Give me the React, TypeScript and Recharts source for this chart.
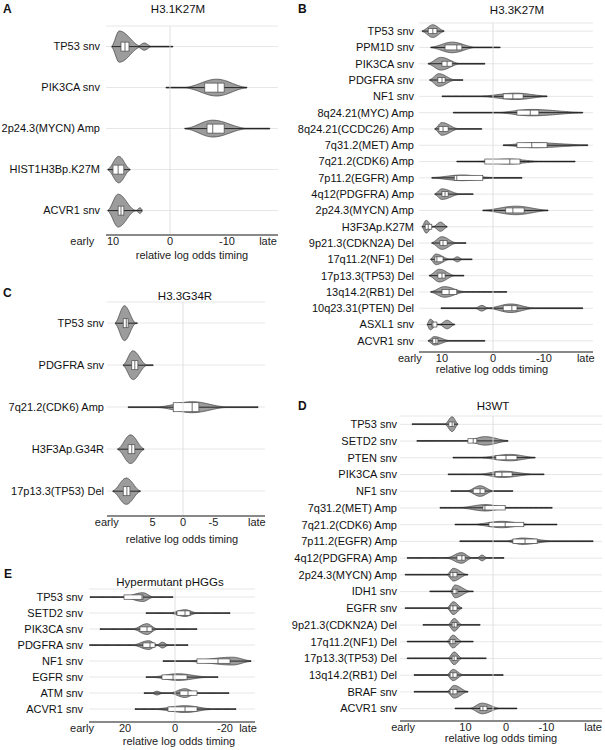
import { ComposedChart, Bar, XAxis, YAxis, CartesianGrid, ReferenceLine } from 'recharts';

// [min, q1, median, q3, max] of relative log odds timing
type Stat = [number, number, number, number, number];
// violin body: [start, mode, end, relative density]
type Body = [number, number, number, number];
// extra bump: [centre, half span, relative density]
type Lobe = [number, number, number];

// A: H3.1K27M
const aLabels = ['TP53 snv', 'PIK3CA snv', '2p24.3(MYCN) Amp', 'HIST1H3Bp.K27M', 'ACVR1 snv'];
const aStats: Stat[] = [
  [-0.5, 7.2, 7.9, 8.6, 10.2],
  [-13.5, -9.5, -8.4, -6.1, 0.7],
  [-17.5, -9.5, -7.5, -6.5, -2.6],
  [7.0, 8.1, 9.1, 10.0, 10.9],
  [4.9, 8.1, 8.6, 9.1, 10.9],
];
const aBodies: Body[] = [
  [5.0, 8.9, 10.3, 0.95],
  [-13.6, -8.2, -2.5, 0.5],
  [-13.5, -7.5, -2.6, 0.5],
  [6.9, 9.0, 11.0, 0.8],
  [6.0, 9.1, 11.0, 1],
];
const aLobes: Record<string, Lobe> = {
  'TP53 snv': [4.5, 1.2, 0.2],
  'ACVR1 snv': [5.3, 0.6, 0.15],
};
const aTicks = [15.4, 10, 0, -10, -17.2];

// B: H3.3K27M
const bLabels = [
  'TP53 snv', 'PPM1D snv', 'PIK3CA snv', 'PDGFRA snv', 'NF1 snv', '8q24.21(MYC) Amp',
  '8q24.21(CCDC26) Amp', '7q31.2(MET) Amp', '7q21.2(CDK6) Amp', '7p11.2(EGFR) Amp',
  '4q12(PDGFRA) Amp', '2p24.3(MYCN) Amp', 'H3F3Ap.K27M', '9p21.3(CDKN2A) Del',
  '17q11.2(NF1) Del', '17p13.3(TP53) Del', '13q14.2(RB1) Del', '10q23.31(PTEN) Del',
  'ASXL1 snv', 'ACVR1 snv',
];
const bStats: Stat[] = [
  [9.6, 11.0, 11.8, 12.7, 13.9],
  [-1.4, 6.1, 7.1, 9.4, 12.2],
  [1.6, 8.0, 9.0, 10.0, 12.7],
  [5.9, 9.4, 10.0, 10.8, 12.4],
  [-10.6, -5.9, -3.9, -2.0, 10.0],
  [-17.6, -9.0, -7.3, -4.7, 7.8],
  [2.2, 8.8, 9.8, 10.6, 11.4],
  [-18.6, -10.6, -7.6, -4.7, -2.0],
  [-16.1, -5.3, -3.3, 1.6, 7.1],
  [-5.7, 2.0, 7.1, 7.6, 12.0],
  [3.9, 8.8, 9.4, 10.0, 11.4],
  [-10.8, -6.1, -3.9, -2.5, 2.0],
  [9.0, 12.0, 12.7, 13.3, 13.9],
  [5.3, 9.0, 9.8, 10.4, 12.0],
  [4.1, 9.8, 11.0, 11.4, 12.2],
  [5.7, 9.4, 10.0, 10.8, 12.5],
  [-2.7, 7.1, 8.6, 10.0, 12.2],
  [-17.6, -4.7, -3.7, -2.0, 10.2],
  [7.5, 11.0, 11.8, 12.0, 12.9],
  [1.6, 10.8, 11.2, 11.8, 12.7],
];
const bBodies: Body[] = [
  [9.5, 11.8, 14.0, 0.85],
  [3.5, 8.0, 12.3, 0.7],
  [6.5, 10.2, 12.8, 0.85],
  [7.5, 10.6, 12.5, 0.85],
  [-10.7, -4.5, 2.5, 0.4],
  [-17.7, -7.5, -1.0, 0.4],
  [6.8, 10.0, 11.5, 0.85],
  [-18.7, -8.0, -2.0, 0.3],
  [-9.0, -3.0, 3.0, 0.3],
  [0.0, 6.0, 12.1, 0.35],
  [6.5, 10.0, 11.5, 0.7],
  [-10.9, -4.5, 2.0, 0.55],
  [11.8, 13.1, 14.0, 0.85],
  [7.2, 10.0, 12.1, 0.85],
  [8.5, 11.2, 12.3, 0.7],
  [7.5, 10.5, 12.6, 0.85],
  [5.5, 9.5, 12.3, 0.7],
  [-8.0, -3.5, 1.0, 0.55],
  [11.0, 12.3, 13.0, 0.7],
  [8.5, 11.5, 12.8, 0.55],
];
const bLobes: Record<string, Lobe> = {
  'H3F3Ap.K27M': [10.3, 1.4, 0.6],
  '17q11.2(NF1) Del': [7.0, 1.0, 0.3],
  '10q23.31(PTEN) Del': [2.2, 1.2, 0.35],
  'ASXL1 snv': [9.0, 1.5, 0.55],
};
const bTicks = [16.3, 10, 0, -10, -18.2];

// C: H3.3G34R
const cLabels = ['TP53 snv', 'PDGFRA snv', '7q21.2(CDK6) Amp', 'H3F3Ap.G34R', '17p13.3(TP53) Del'];
const cStats: Stat[] = [
  [7.5, 9.0, 9.3, 9.8, 11.1],
  [4.9, 7.4, 7.9, 8.4, 9.8],
  [-12.3, -2.6, -1.5, 1.6, 9.0],
  [6.4, 7.9, 8.4, 9.0, 10.7],
  [7.0, 8.7, 9.2, 9.8, 11.5],
];
const cBodies: Body[] = [
  [7.7, 9.6, 11.2, 1],
  [5.9, 8.2, 9.9, 0.82],
  [-7.2, -1.5, 4.3, 0.3],
  [6.3, 8.6, 10.8, 0.82],
  [6.9, 9.3, 11.6, 0.75],
];
const cLobes: Record<string, Lobe> = {};
const cTicks = [12.5, 5, 0, -5, -12.1];

// D: H3WT
const dLabels = [
  'TP53 snv', 'SETD2 snv', 'PTEN snv', 'PIK3CA snv', 'NF1 snv', '7q31.2(MET) Amp',
  '7q21.2(CDK6) Amp', '7p11.2(EGFR) Amp', '4q12(PDGFRA) Amp', '2p24.3(MYCN) Amp',
  'IDH1 snv', 'EGFR snv', '9p21.3(CDKN2A) Del', '17q11.2(NF1) Del', '17p13.3(TP53) Del',
  '13q14.2(RB1) Del', 'BRAF snv', 'ACVR1 snv',
];
const dStats: Stat[] = [
  [11.9, 12.8, 13.3, 14.1, 23.2],
  [-0.5, 7.2, 8.1, 9.4, 22.0],
  [-7.2, -2.7, 0, 2.5, 13.1],
  [-9.4, -1.5, 1.0, 2.7, 14.3],
  [-1.7, 5.2, 6.4, 8.1, 13.6],
  [-11.4, 0.2, 5.2, 5.7, 16.3],
  [-12.6, -4.4, 0.2, 4.2, 12.6],
  [-21.5, -7.7, -4.7, -1.7, 11.4],
  [0.5, 10.1, 10.9, 12.1, 24.4],
  [9.4, 12.1, 13.1, 13.8, 24.9],
  [8.1, 11.9, 12.3, 13.1, 18.8],
  [10.9, 12.1, 13.1, 13.8, 24.9],
  [6.4, 12.1, 12.8, 13.3, 20.5],
  [8.1, 12.6, 13.1, 13.8, 24.4],
  [4.9, 12.1, 12.8, 13.3, 24.4],
  [0.7, 12.1, 13.1, 13.8, 22.7],
  [9.4, 12.1, 13.1, 13.8, 22.7],
  [-2.7, 4.7, 5.7, 6.4, 12.6],
];
const dBodies: Body[] = [
  [11.8, 13.3, 15.1, 1],
  [-0.6, 5.2, 9.8, 0.55],
  [-7.3, -1.0, 6.4, 0.4],
  [-6.7, 1.0, 6.4, 0.4],
  [3.2, 6.4, 9.6, 0.7],
  [-0.5, 5.0, 11.4, 0.4],
  [-6.0, 1.0, 8.0, 0.4],
  [-11.5, -4.0, 0.0, 0.4],
  [8.4, 11.0, 14.6, 0.7],
  [9.6, 13.0, 14.6, 0.85],
  [8.8, 12.6, 13.8, 0.85],
  [10.8, 13.0, 14.6, 0.85],
  [10.9, 12.8, 14.3, 0.85],
  [10.9, 13.1, 14.6, 0.85],
  [10.9, 12.8, 14.3, 0.85],
  [10.6, 13.1, 14.6, 0.75],
  [9.4, 12.8, 14.6, 0.85],
  [1.5, 5.9, 8.9, 0.7],
];
const dLobes: Record<string, Lobe> = {
  '4q12(PDGFRA) Amp': [5.9, 1.2, 0.35],
};
const dTicks = [25.4, 10, 0, -10, -21.5];

// E: Hypermutant pHGGs
const eLabels = ['TP53 snv', 'SETD2 snv', 'PIK3CA snv', 'PDGFRA snv', 'NF1 snv', 'EGFR snv', 'ATM snv', 'ACVR1 snv'];
const eStats: Stat[] = [
  [0.8, 12.8, 13.2, 20.4, 34.0],
  [-22.0, -6.0, -4.0, -0.8, 11.6],
  [-8.8, 9.2, 11.2, 14.0, 30.0],
  [-5.2, 8.0, 10.0, 12.8, 34.2],
  [-30.4, -22.0, -17.2, -8.8, 4.8],
  [-17.2, -4.8, 0.8, 5.2, 11.6],
  [-21.6, -8.8, -5.2, -2.0, 12.4],
  [-24.4, -8.8, -4.0, 2.8, 16.0],
];
const eBodies: Body[] = [
  [8.8, 12.8, 20.8, 0.8],
  [-8.8, -4.0, 2.0, 0.6],
  [7.2, 11.2, 16.8, 1],
  [7.0, 10.5, 16.8, 0.8],
  [-30.5, -23.0, -5.0, 0.7],
  [-13.0, -1.0, 9.0, 0.6],
  [-8.8, -4.0, 2.0, 0.8],
  [-15.0, -4.0, 8.0, 0.6],
];
const eLobes: Record<string, Lobe> = {
  'PDGFRA snv': [5.0, 2.2, 0.5],
  'ATM snv': [7.2, 2.0, 0.3],
};
const eTicks = [37.2, 20, 0, -20, -29.2];

const FONT = '"Liberation Sans", Arial, sans-serif';

const bump = (t: number) => 0.5 - 0.5 * Math.cos(Math.PI * Math.max(0, Math.min(1, t)));

const Violin = (props: any) => {
  const { x, y, width, height, payload, maxHalf, boxHalf } = props;
  if (!payload) return null;
  const [mn, q1, med, q3, mx] = payload.stat as Stat;
  const [b0, mode, b1, d] = payload.body as Body;
  const lobe = payload.lobe as Lobe | undefined;
  // axis is reversed: max value sits on the left edge of the bar, min on the right
  const lx = Math.min(x, x + width);
  const rx = Math.max(x, x + width);
  const px = (v: number) => rx + ((v - mn) / (mx - mn)) * (lx - rx);
  const cy = y + height / 2;

  const half = (v: number) => {
    let w = 0;
    if (v >= b0 && v <= mode) w = d * (mode > b0 ? bump((v - b0) / (mode - b0)) : 1);
    else if (v > mode && v <= b1) w = d * (b1 > mode ? bump((b1 - v) / (b1 - mode)) : 1);
    if (lobe) {
      const t = Math.abs(v - lobe[0]) / lobe[1];
      if (t < 1) w = Math.max(w, lobe[2] * bump(1 - t));
    }
    return w * maxHalf + 0.4;
  };

  const n = 90;
  const top: string[] = [];
  const bot: string[] = [];
  for (let i = 0; i <= n; i++) {
    const v = mn + ((mx - mn) * i) / n;
    const X = px(v).toFixed(2);
    const h = half(v);
    top.push(`${X},${(cy - h).toFixed(2)}`);
    bot.unshift(`${X},${(cy + h).toFixed(2)}`);
  }
  const path = `M${top.join('L')}L${bot.join('L')}Z`;
  const bx = Math.min(px(q1), px(q3));
  const bw = Math.abs(px(q1) - px(q3));

  return (
    <g>
      <path d={path} fill="#9c9c9c" stroke="#3a3a3a" strokeWidth={0.7} strokeLinejoin="round" />
      <line x1={px(mn)} x2={px(mx)} y1={cy} y2={cy} stroke="#1a1a1a" strokeWidth={0.9} />
      <rect x={bx} y={cy - boxHalf} width={bw} height={boxHalf * 2} fill="#fff" stroke="#4a4a4a" strokeWidth={0.7} />
      <line x1={px(med)} x2={px(med)} y1={cy - boxHalf} y2={cy + boxHalf} stroke="#4a4a4a" strokeWidth={0.8} />
    </g>
  );
};

const panels = [
  {
    letter: 'A', title: 'H3.1K27M', labels: aLabels, stats: aStats, bodies: aBodies, lobes: aLobes, ticks: aTicks,
    frame: { left: 0, top: 0, width: 300, height: 270 }, plot: { x0: 106, x1: 278, y0: 26, y1: 235 }, padBottom: 4,
    yWidth: 100, labelGap: 6, domain: [-18.95, 11.23], zero: 0, maxHalf: 16, boxHalf: 4.5,
    axisDx: 0, axisDy: 24, letterAt: [3, 13], titleAt: [178, 13],
  },
  {
    letter: 'B', title: 'H3.3K27M', labels: bLabels, stats: bStats, bodies: bBodies, lobes: bLobes, ticks: bTicks,
    frame: { left: 280, top: 0, width: 325, height: 390 }, plot: { x0: 419, x1: 593, y0: 23, y1: 352 }, padBottom: 3,
    yWidth: 135, labelGap: 5, domain: [-19.61, 14.51], zero: 0, maxHalf: 7, boxHalf: 2.5,
    axisDx: -14, axisDy: 21, letterAt: [298, 13], titleAt: [517, 14],
  },
  {
    letter: 'C', title: 'H3.3G34R', labels: cLabels, stats: cStats, bodies: cBodies, lobes: cLobes, ticks: cTicks,
    frame: { left: 0, top: 282, width: 300, height: 268 }, plot: { x0: 107, x1: 265, y0: 302, y1: 516 }, padBottom: 4,
    yWidth: 100, labelGap: 3, domain: [-13.44, 12.46], zero: 0, maxHalf: 17, boxHalf: 4.5,
    axisDx: -4, axisDy: 27, letterAt: [3, 297], titleAt: [185, 300],
  },
  {
    letter: 'D', title: 'H3WT', labels: dLabels, stats: dStats, bodies: dBodies, lobes: dLobes, ticks: dTicks,
    frame: { left: 280, top: 392, width: 325, height: 358 }, plot: { x0: 400, x1: 602, y0: 416, y1: 721 }, padBottom: 4,
    yWidth: 118, labelGap: 3, domain: [-23.7, 26.17], zero: 3.2, maxHalf: 7, boxHalf: 2.2,
    axisDx: 0, axisDy: 21, letterAt: [298, 410], titleAt: [493, 410],
  },
  {
    letter: 'E', title: 'Hypermutant pHGGs', labels: eLabels, stats: eStats, bodies: eBodies, lobes: eLobes, ticks: eTicks,
    frame: { left: 0, top: 565, width: 300, height: 185 }, plot: { x0: 89, x1: 255, y0: 589, y1: 722 }, padBottom: 5,
    yWidth: 85, labelGap: 6, domain: [-32, 34.4], zero: 0, maxHalf: 5, boxHalf: 2.2,
    axisDx: 7, axisDy: 23, letterAt: [4, 578], titleAt: [170, 586],
  },
];

const AXIS_H = 28;

const Panel = ({ p }: { p: (typeof panels)[number] }) => {
  const rows = p.labels.map((name, i) => ({
    name,
    span: [p.stats[i][0], p.stats[i][4]],
    stat: p.stats[i],
    body: p.bodies[i],
    lobe: p.lobes[name],
  }));
  const { frame, plot } = p;
  const margin = {
    top: plot.y0 - frame.top,
    bottom: frame.top + frame.height - plot.y1 - AXIS_H,
    left: plot.x0 - frame.left - p.yWidth,
    right: frame.left + frame.width - plot.x1,
  };
  const last = p.ticks.length - 1;
  const xTick = (t: any) => {
    const i = p.ticks.indexOf(t.payload.value);
    const txt = i === 0 ? 'early' : i === last ? 'late' : String(t.payload.value);
    return (
      <text x={t.x} y={t.y} dy="0.71em" textAnchor="middle" fontSize={11} fill="#222">
        {txt}
      </text>
    );
  };
  const yTick = (t: any) => (
    <text x={t.x} y={t.y} dy="0.35em" textAnchor="end" fontSize={11} fill="#111">
      {t.payload.value}
    </text>
  );

  return (
    <div style={{ position: 'absolute', left: frame.left, top: frame.top }}>
      <ComposedChart width={frame.width} height={frame.height} layout="vertical" data={rows} margin={margin}>
        <CartesianGrid horizontal vertical={false} stroke="#e4e4e4" strokeWidth={0.9} />
        <ReferenceLine x={p.zero} stroke="#dcdcdc" strokeWidth={0.9} />
        <XAxis
          type="number"
          domain={p.domain}
          reversed
          allowDataOverflow
          ticks={p.ticks}
          interval={0}
          tickLine={false}
          tickSize={0}
          tickMargin={2}
          height={AXIS_H}
          axisLine={{ stroke: '#666', strokeWidth: 1.3 }}
          tick={xTick}
          label={{
            value: 'relative log odds timing',
            position: 'insideBottom',
            offset: AXIS_H - p.axisDy,
            dx: p.axisDx,
            fontSize: 11,
            fill: '#222',
          }}
        />
        <YAxis
          type="category"
          dataKey="name"
          width={p.yWidth}
          interval={0}
          tickLine={false}
          axisLine={false}
          tickSize={0}
          tickMargin={p.labelGap}
          padding={{ top: 0, bottom: p.padBottom }}
          tick={yTick}
        />
        <Bar
          dataKey="span"
          isAnimationActive={false}
          shape={(s: any) => <Violin {...s} maxHalf={p.maxHalf} boxHalf={p.boxHalf} />}
        />
      </ComposedChart>
    </div>
  );
};

export default function App() {
  return (
    <div style={{ position: 'absolute', left: 0, top: 0, width: 605, height: 750, background: '#fff', fontFamily: FONT }}>
      {panels.map((p) => (
        <Panel key={p.letter} p={p} />
      ))}
      <svg width={605} height={750} style={{ position: 'absolute', left: 0, top: 0, pointerEvents: 'none' }}>
        {panels.map((p) => (
          <g key={p.letter}>
            <text x={p.letterAt[0]} y={p.letterAt[1]} fontSize={12} fontWeight="bold" fill="#111">
              {p.letter}
            </text>
            <text x={p.titleAt[0]} y={p.titleAt[1]} fontSize={11.5} textAnchor="middle" fill="#111">
              {p.title}
            </text>
          </g>
        ))}
      </svg>
    </div>
  );
}
